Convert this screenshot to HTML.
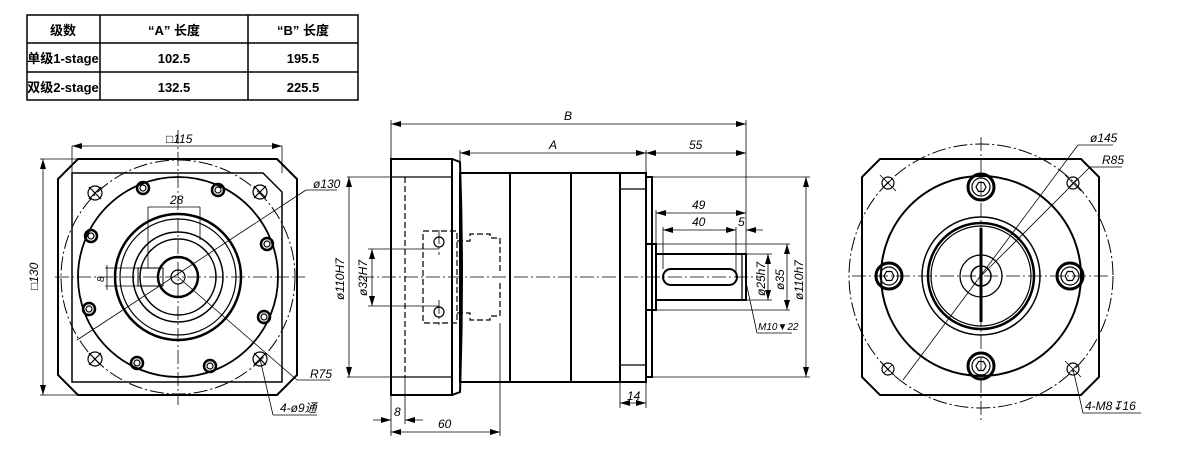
<!DOCTYPE html>
<html><head><meta charset="utf-8"><style>
html,body{margin:0;padding:0;background:#fff;width:1184px;height:459px;overflow:hidden}
svg{display:block}
text{font-family:"Liberation Sans","Noto Sans CJK SC",sans-serif;fill:#000}
.d{font-style:italic;font-size:12px}
.t{font-size:13px;font-weight:bold;font-family:"Liberation Mono","Noto Sans CJK SC",monospace}
</style></head><body>
<svg width="1184" height="459" viewBox="0 0 1184 459" xmlns="http://www.w3.org/2000/svg">
<defs>
<marker id="a" viewBox="0 0 10 6" refX="10" refY="3" markerWidth="10" markerHeight="6" orient="auto-start-reverse" markerUnits="userSpaceOnUse"><path d="M0,0L10,3L0,6z" fill="#000"/></marker>
</defs>
<!-- table -->
<g fill="none" stroke="#000" stroke-width="1.5">
<rect x="27" y="15" width="331" height="85"/>
<line x1="27" y1="43" x2="358" y2="43"/><line x1="27" y1="72" x2="358" y2="72"/>
<line x1="100" y1="15" x2="100" y2="100"/><line x1="248" y1="15" x2="248" y2="100"/>
</g>
<g class="t" text-anchor="middle">
<text x="63" y="35">级数</text><text x="174" y="35">“A” 长度</text><text x="303" y="35">“B” 长度</text>
<text x="63" y="63">单级1-stage</text><text x="174" y="63">102.5</text><text x="303" y="63">195.5</text>
<text x="63" y="92">双级2-stage</text><text x="174" y="92">132.5</text><text x="303" y="92">225.5</text>
</g>

<!-- LEFT VIEW -->
<g fill="none" stroke="#000">
<path d="M78,159H277L297,179V375L277,395H78L58,375V179Z" stroke-width="2"/>
<path d="M72,173H263L282,192V382H72Z" stroke-width="1.5"/>
<circle cx="178" cy="277" r="117" stroke-width="1" stroke-dasharray="14 3 2 3"/>
<circle cx="178" cy="277" r="100" stroke-width="1.8"/>
<circle cx="178" cy="277" r="63" stroke-width="2.5"/>
<circle cx="178" cy="277" r="58" stroke-width="1.2"/>
<circle cx="178" cy="277" r="45" stroke-width="1.5"/>
<circle cx="178" cy="277" r="38" stroke-width="1.5"/>
<circle cx="178" cy="277" r="20" stroke-width="2.5"/>
<circle cx="178" cy="277" r="7" stroke-width="1.2"/>
<rect x="138" y="268" width="25" height="18" stroke-width="1"/>
<g stroke-width="2.5">
<circle cx="143" cy="188" r="6"/><circle cx="218" cy="190" r="6"/><circle cx="91" cy="236" r="6"/><circle cx="267" cy="244" r="6"/>
<circle cx="89" cy="309" r="6"/><circle cx="264" cy="317" r="6"/><circle cx="137" cy="363" r="6"/><circle cx="210" cy="366" r="6"/>
</g>
<g stroke-width="1.2">
<circle cx="143" cy="188" r="3"/><circle cx="218" cy="190" r="3"/><circle cx="91" cy="236" r="3"/><circle cx="267" cy="244" r="3"/>
<circle cx="89" cy="309" r="3"/><circle cx="264" cy="317" r="3"/><circle cx="137" cy="363" r="3"/><circle cx="210" cy="366" r="3"/>
<circle cx="95" cy="193" r="7"/><circle cx="260" cy="192" r="7"/><circle cx="95" cy="359" r="7"/><circle cx="260" cy="359" r="7"/>
<path d="M89,187l12,12M101,187l-12,12M254,186l12,12M266,186l-12,12M89,353l12,12M101,353l-12,12M254,353l12,12M266,353l-12,12"/>
</g>
<g stroke-width="0.8" stroke-dasharray="14 3 2 3">
<line x1="55" y1="277" x2="305" y2="277"/><line x1="178" y1="130" x2="178" y2="405"/>
</g>
<g stroke-width="0.8">
<line x1="72" y1="146" x2="282" y2="146" marker-start="url(#a)" marker-end="url(#a)"/>
<line x1="72" y1="146" x2="72" y2="173"/><line x1="282" y1="146" x2="282" y2="173"/>
<line x1="43" y1="159" x2="43" y2="395" marker-start="url(#a)" marker-end="url(#a)"/>
<line x1="40" y1="159" x2="78" y2="159"/><line x1="40" y1="395" x2="78" y2="395"/>
<line x1="148" y1="207" x2="200" y2="207"/><line x1="148" y1="207" x2="148" y2="268"/><line x1="200" y1="207" x2="200" y2="240"/>
<line x1="107" y1="265" x2="107" y2="290"/><line x1="105" y1="268" x2="138" y2="268"/><line x1="105" y1="286" x2="138" y2="286"/>
<line x1="77" y1="340" x2="306" y2="190"/><line x1="306" y1="190" x2="337" y2="190"/>
<line x1="178" y1="277" x2="297" y2="380"/><line x1="297" y1="380" x2="330" y2="380"/>
<line x1="260" y1="359" x2="273" y2="415"/><line x1="273" y1="415" x2="317" y2="415"/>
</g>
</g>
<g class="d">
<text x="166" y="143">□115</text>
<text x="170" y="204">28</text>
<text x="313" y="188">ø130</text>
<text x="310" y="378">R75</text>
<text x="280" y="412">4-ø9通</text>
<text transform="translate(38,290) rotate(-90)">□130</text>
<text transform="translate(104,282) rotate(-90)" font-size="10">8</text>
</g>

<!-- MIDDLE VIEW -->
<g fill="none" stroke="#000">
<g stroke-width="2">
<rect x="391" y="159" width="61" height="236"/>
<path d="M452,159L460,162Q464,277 460,392L452,395"/>
<rect x="460" y="173" width="186" height="209"/>
<line x1="510" y1="173" x2="510" y2="382"/><line x1="571" y1="173" x2="571" y2="382"/><line x1="620" y1="173" x2="620" y2="382"/>
<rect x="646" y="177" width="6" height="200"/>
<rect x="646" y="244" width="10" height="66"/>
<rect x="656" y="254" width="90" height="46"/>
<rect x="663" y="269" width="74" height="16" rx="8"/>
</g>
<g stroke-width="1.3">
<line x1="391" y1="177" x2="452" y2="177"/><line x1="391" y1="377" x2="452" y2="377"/>
<line x1="620" y1="189" x2="646" y2="189"/><line x1="620" y1="365" x2="646" y2="365"/>
<line x1="742" y1="254" x2="742" y2="300"/>
</g>
<g stroke-width="1.2" stroke-dasharray="6 3">
<line x1="405" y1="177" x2="405" y2="377"/>
<rect x="423" y="231" width="34" height="92"/>
<path d="M457,241H470V234H490V238H500V272M457,313H470V320H490V316H500V282"/>
</g>
<g stroke-width="1.2"><circle cx="439" cy="242" r="5"/><circle cx="439" cy="312" r="5"/></g>
<g stroke-width="0.8" stroke-dasharray="14 3 2 3">
<line x1="360" y1="277" x2="760" y2="277"/>
<line x1="439" y1="230" x2="439" y2="255"/><line x1="439" y1="300" x2="439" y2="325"/>
</g>
<g stroke-width="0.8">
<line x1="391" y1="124" x2="746" y2="124" marker-start="url(#a)" marker-end="url(#a)"/>
<line x1="391" y1="120" x2="391" y2="436"/><line x1="746" y1="120" x2="746" y2="254"/>
<line x1="460" y1="153" x2="646" y2="153" marker-start="url(#a)" marker-end="url(#a)"/>
<line x1="646" y1="153" x2="746" y2="153" marker-start="url(#a)" marker-end="url(#a)"/>
<line x1="460" y1="150" x2="460" y2="173"/><line x1="646" y1="150" x2="646" y2="173"/>
<line x1="347" y1="177" x2="391" y2="177"/><line x1="347" y1="377" x2="391" y2="377"/>
<line x1="349" y1="177" x2="349" y2="377" marker-start="url(#a)" marker-end="url(#a)"/>
<line x1="652" y1="177" x2="810" y2="177"/><line x1="652" y1="377" x2="810" y2="377"/>
<line x1="806" y1="177" x2="806" y2="377" marker-start="url(#a)" marker-end="url(#a)"/>
<line x1="368" y1="249" x2="439" y2="249"/><line x1="368" y1="306" x2="439" y2="306"/>
<line x1="372" y1="249" x2="372" y2="306" marker-start="url(#a)" marker-end="url(#a)"/>
<line x1="656" y1="213" x2="746" y2="213" marker-start="url(#a)" marker-end="url(#a)"/>
<line x1="656" y1="210" x2="656" y2="254"/>
<line x1="663" y1="230" x2="736" y2="230" marker-start="url(#a)" marker-end="url(#a)"/>
<line x1="663" y1="227" x2="663" y2="269"/><line x1="736" y1="227" x2="736" y2="277"/>
<line x1="746" y1="230" x2="763" y2="230" marker-start="url(#a)"/>
<line x1="746" y1="254" x2="772" y2="254"/><line x1="746" y1="300" x2="772" y2="300"/>
<line x1="768" y1="254" x2="768" y2="300" marker-start="url(#a)" marker-end="url(#a)"/>
<line x1="656" y1="244" x2="790" y2="244"/><line x1="656" y1="310" x2="790" y2="310"/>
<line x1="787" y1="244" x2="787" y2="310" marker-start="url(#a)" marker-end="url(#a)"/>
<line x1="746" y1="282" x2="757" y2="333"/><line x1="757" y1="333" x2="792" y2="333"/>
<line x1="620" y1="382" x2="620" y2="408"/><line x1="646" y1="382" x2="646" y2="408"/>
<line x1="620" y1="403" x2="646" y2="403" marker-start="url(#a)" marker-end="url(#a)"/>
<line x1="405" y1="377" x2="405" y2="424"/>
<line x1="373" y1="420" x2="391" y2="420" marker-end="url(#a)"/><line x1="423" y1="420" x2="405" y2="420" marker-end="url(#a)"/>
<line x1="500" y1="323" x2="500" y2="436"/>
<line x1="391" y1="432" x2="500" y2="432" marker-start="url(#a)" marker-end="url(#a)"/>
</g>
</g>
<g class="d">
<text x="564" y="120">B</text><text x="549" y="149">A</text><text x="689" y="149">55</text>
<text x="692" y="209">49</text><text x="692" y="226">40</text><text x="738" y="226">5</text>
<text x="758" y="330" font-size="10">M10▼22</text>
<text x="627" y="400">14</text><text x="394" y="416">8</text><text x="438" y="428">60</text>
<text transform="translate(344,300) rotate(-90)">ø110H7</text>
<text transform="translate(367,296) rotate(-90)">ø32H7</text>
<text transform="translate(765,296) rotate(-90)">ø25h7</text>
<text transform="translate(784,290) rotate(-90)">ø35</text>
<text transform="translate(803,300) rotate(-90)">ø110h7</text>
</g>

<!-- RIGHT VIEW -->
<g fill="none" stroke="#000">
<path d="M880,159H1081L1099,177V377L1081,395H880L862,377V177Z" stroke-width="2"/>
<circle cx="981" cy="276" r="132" stroke-width="1" stroke-dasharray="14 3 2 3"/>
<circle cx="981" cy="276" r="100" stroke-width="2"/>
<circle cx="981" cy="276" r="59" stroke-width="1.5"/>
<circle cx="981" cy="276" r="53" stroke-width="2.5"/>
<circle cx="981" cy="276" r="50" stroke-width="1.2"/>
<circle cx="981" cy="276" r="21" stroke-width="1.3"/>
<circle cx="981" cy="276" r="10" stroke-width="1.5"/>
<line x1="981" y1="228" x2="981" y2="322" stroke-width="3"/>
<g stroke-width="3"><circle cx="981" cy="187" r="13"/><circle cx="889" cy="276" r="13"/><circle cx="1070" cy="276" r="13"/><circle cx="981" cy="366" r="13"/></g>
<g stroke-width="1.2"><circle cx="981" cy="187" r="9"/><circle cx="889" cy="276" r="9"/><circle cx="1070" cy="276" r="9"/><circle cx="981" cy="366" r="9"/>
<path d="M976,187l2.5-4.5h5l2.5,4.5l-2.5,4.5h-5zM884,276l2.5-4.5h5l2.5,4.5l-2.5,4.5h-5zM1065,276l2.5-4.5h5l2.5,4.5l-2.5,4.5h-5zM976,366l2.5-4.5h5l2.5,4.5l-2.5,4.5h-5z"/>
<circle cx="888" cy="183" r="6"/><circle cx="1073" cy="183" r="6"/><circle cx="888" cy="369" r="6"/><circle cx="1073" cy="369" r="6"/>
</g>
<g stroke-width="0.8">
<path d="M880,175l16,16M884,187l8-8M1065,175l16,16M1069,187l8-8M880,361l16,16M884,373l8-8M1065,361l16,16M1069,373l8-8"/>
<line x1="903" y1="380" x2="1078" y2="145"/><line x1="1078" y1="145" x2="1113" y2="145"/>
<line x1="981" y1="276" x2="1090" y2="167"/><line x1="1090" y1="167" x2="1122" y2="167"/>
<line x1="1073" y1="369" x2="1083" y2="413"/><line x1="1083" y1="413" x2="1141" y2="413"/>
</g>
<g stroke-width="0.8" stroke-dasharray="14 3 2 3">
<line x1="852" y1="276" x2="1110" y2="276"/><line x1="981" y1="137" x2="981" y2="420"/>
</g>
</g>
<g class="d">
<text x="1090" y="142">ø145</text><text x="1102" y="164">R85</text><text x="1085" y="410">4-M8↧16</text>
</g>
</svg>
</body></html>
